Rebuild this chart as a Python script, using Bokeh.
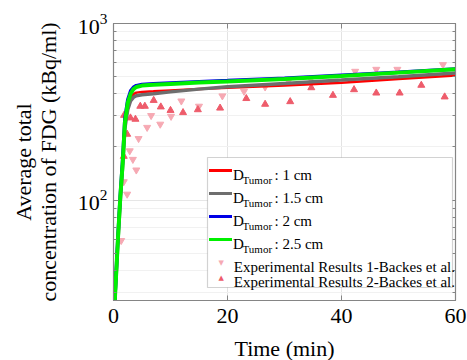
import numpy as np
from bokeh.plotting import figure
from bokeh.models import (Range1d, LinearAxis, LogAxis, FixedTicker, Label, LogTickFormatter,
                          BoxAnnotation, CustomJSTickFormatter)
from bokeh.embed import file_html
from bokeh.resources import INLINE

# ---------------- data ----------------
t_model = [0.2, 0.5, 0.8, 1.2, 1.6, 2.0, 2.5, 3.0, 3.5, 4.0, 5.0, 7.0, 10, 15, 20, 30, 40, 50, 60]
conc_1cm = [26, 40, 62, 104, 160, 270, 340, 380, 398, 406, 410, 413, 418, 425, 432, 445, 462, 485, 508]
conc_15cm = [26, 39, 60, 100, 155, 255, 325, 365, 382, 390, 395, 400, 410, 425, 438, 458, 478, 500, 524]
conc_2cm = [26, 41, 64, 108, 168, 290, 370, 415, 435, 445, 452, 456, 461, 468, 475, 490, 510, 530, 553]
conc_25cm = [26, 40, 62, 105, 160, 275, 355, 400, 425, 437, 445, 450, 455, 463, 470, 485, 505, 527, 550]

exp1_t = [1.35, 1.8, 2.4, 2.85, 3.4, 4.0, 4.4, 5.9, 6.6, 8.2, 10.1, 11.9, 15.0, 19.1, 22.9, 26.6,
          30.7, 34.6, 42.4, 46.1, 49.8, 57.8]
exp1_c = [59, 127, 108, 190, 170, 148, 223, 258, 301, 269, 298, 364, 340, 389, 413, 437,
          472, 484, 536, 550, 550, 585]

exp2_t = [1.8, 2.4, 1.85, 2.97, 3.85, 4.7, 5.5, 7.05, 8.3, 10.0, 12.2, 14.8, 18.7, 23.3, 26.6, 31.0,
          34.7, 38.5, 42.2, 46.1, 50.2, 54.0, 58.1]
exp2_c = [177, 236, 302, 292, 287, 340, 340, 367, 337, 322, 313, 325, 332, 376, 349, 361,
          433, 392, 422, 404, 404, 447, 384]

x_ticks = [0, 20, 40, 60]
y_ticks = [100, 1000]
y_minor_ticks = [30, 40, 50, 60, 70, 80, 90, 200, 300, 400, 500, 600, 700, 800, 900]
series_labels = [": 1 cm", ": 1.5 cm", ": 2 cm", ": 2.5 cm"]
exp_labels = ["Experimental Results 1-Backes et al.", "Experimental Results 2-Backes et al."]

# ---------------- styles ----------------
FONT = "Liberation Serif"
C_RED, C_GRAY, C_BLUE, C_GREEN = "#ff0000", "#6e6e6e", "#0000e6", "#00f000"
C_EXP1, C_EXP2 = "#f6a9b3", "#ee5c6b"
FRAME = "#858585"

p = figure(frame_width=342, frame_height=277,
           x_range=Range1d(0, 60), y_range=Range1d(27, 1000), y_axis_type="log",
           output_backend="svg", toolbar_location=None,
           min_border_left=113, min_border_top=23, min_border_right=12, min_border_bottom=60,
           background_fill_color="white", border_fill_color="white")

p.outline_line_color = FRAME
p.outline_line_width = 1.2

# axes
xa = p.xaxis[0]
xa.ticker = FixedTicker(ticks=x_ticks)
xa.axis_label = "Time (min)"
ya = p.yaxis[0]
ya.ticker = FixedTicker(ticks=y_ticks, minor_ticks=y_minor_ticks)
ya.formatter = LogTickFormatter()
ya.axis_label = "Average total\nconcentration of FDG (kBq/ml)"

# grids
p.xgrid.ticker = FixedTicker(ticks=[20, 40])
p.xgrid.grid_line_color = "#e3e3e3"
p.ygrid.ticker = FixedTicker(ticks=y_ticks, minor_ticks=y_minor_ticks)
p.ygrid.grid_line_color = "#e6e6e6"
p.ygrid.minor_grid_line_color = "#f1f1f1"

for ax in (xa, ya):
    ax.axis_line_color = FRAME
    ax.major_tick_line_color = FRAME
    ax.minor_tick_line_color = FRAME
    ax.major_tick_in = 5
    ax.major_tick_out = 0
    ax.minor_tick_in = 3
    ax.minor_tick_out = 0
    ax.major_label_text_font = FONT
    ax.major_label_text_font_size = "22px"
    ax.major_label_text_color = "black"
    ax.axis_label_text_font = FONT
    ax.axis_label_text_font_size = "22px"
    ax.axis_label_text_font_style = "normal"
    ax.axis_label_text_color = "black"
xa.major_label_standoff = 8
xa.axis_label_standoff = 10
ya.major_label_standoff = 6
ya.axis_label_standoff = 14
ya.axis_label_text_line_height = 1.0

blank = CustomJSTickFormatter(code="return ''")
ra = LogAxis(ticker=FixedTicker(ticks=y_ticks, minor_ticks=y_minor_ticks), formatter=blank,
             axis_line_color=FRAME, major_tick_line_color=FRAME, minor_tick_line_color=FRAME,
             major_tick_in=5, major_tick_out=0, minor_tick_in=3, minor_tick_out=0,
             major_label_text_font_size="1px")
ta = LinearAxis(ticker=FixedTicker(ticks=x_ticks), formatter=blank, axis_line_color=FRAME,
                major_tick_line_color=FRAME, minor_tick_line_color=None,
                major_tick_in=5, major_tick_out=0, major_label_text_font_size="1px")
p.add_layout(ra, "right")
p.add_layout(ta, "above")

# ---------------- marks ----------------
p.scatter(exp1_t, exp1_c, marker="inverted_triangle", size=7, fill_color=C_EXP1,
          line_color=C_EXP1)
p.scatter(exp2_t, exp2_c, marker="triangle", size=7, fill_color=C_EXP2, line_color=C_EXP2)

p.line(t_model, conc_1cm, line_color=C_RED, line_width=2.5)
p.line(t_model, conc_15cm, line_color=C_GRAY, line_width=3.5)
p.line(t_model, conc_2cm, line_color=C_BLUE, line_width=3.5)
p.line(t_model, conc_25cm, line_color=C_GREEN, line_width=4)

# ---------------- legend (frame-relative screen units, y up) ----------------
FX0, FY1 = 113, 300  # reference frame left / bottom on page
def sx(px):
    return px - FX0
def sy(py):
    return FY1 - py

def box(l, r, t, b, **kw):
    return BoxAnnotation(left=sx(l), right=sx(r), top=sy(t), bottom=sy(b),
                         left_units="screen", right_units="screen", top_units="screen",
                         bottom_units="screen", level="overlay", **kw)

def label(x, y, text, size, **kw):
    kw.setdefault("text_font", FONT)
    kw.setdefault("text_baseline", "alphabetic")
    kw.setdefault("text_color", "black")
    return Label(x=sx(x), y=sy(y), x_units="screen", y_units="screen", text=text,
                 text_font_size=size, level="overlay", **kw)

p.add_layout(box(207, 452, 157, 287, fill_color="white", fill_alpha=1,
                 line_color="#6a6a6a", line_width=1.2))
row_y = [170, 193, 216, 239]
for color, lab, yy in zip([C_RED, C_GRAY, C_BLUE, C_GREEN], series_labels, row_y):
    p.add_layout(box(208.5, 231.5, yy - 1.5, yy + 1.5, fill_color=color, fill_alpha=1,
                     line_color=None))
    p.add_layout(label(232.5, yy + 4.5, "D", "15px"))
    p.add_layout(label(242, yy + 9.5, "Tumor", "11px"))
    p.add_layout(label(274, yy + 4.5, lab, "15px"))

for mk, col, lab, yy in zip(["\u25BC", "\u25B2"], [C_EXP1, C_EXP2], exp_labels, [262, 277]):
    p.add_layout(label(220.7, yy, mk, "7px", text_font="DejaVu Sans", text_align="center",
                       text_baseline="middle", text_color=col))
    p.add_layout(label(233.3, yy + 4, lab, "15px"))

open("out.html", "w").write(file_html(p, INLINE))
